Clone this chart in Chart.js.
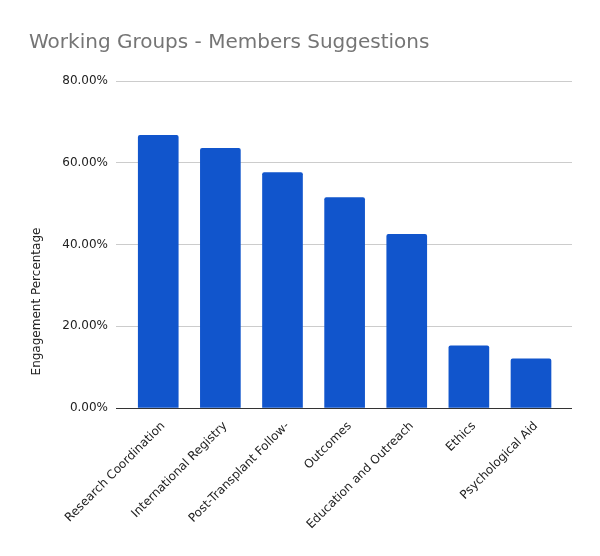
<!DOCTYPE html>
<html>
<head>
<meta charset="utf-8">
<title>Working Groups - Members Suggestions</title>
<script src="https://cdn.jsdelivr.net/npm/chart.js@4"></script>
<style>
  html, body { margin: 0; padding: 0; background: #fff; }
  #wrap { width: 600px; height: 556px; }
</style>
</head>
<body>
<div id="wrap"><canvas id="chart" width="600" height="556"></canvas></div>
<script>
// data
const categories = [
  "Research Coordination",
  "International Registry",
  "Post-Transplant Follow-",
  "Outcomes",
  "Education and Outreach",
  "Ethics",
  "Psychological Aid"
];
const engagement = [66.7, 63.5, 57.6, 51.5, 42.5, 15.2, 12.0];
const yTicks = [0, 20, 40, 60, 80];

const chartTitle = "Working Groups - Members Suggestions";
const yTitle = "Engagement Percentage";

// y axis title sits lower than the plot middle in the original, so draw it ourselves
const yTitlePlugin = {
  id: "yTitle",
  afterDraw(chart) {
    const ctx = chart.ctx;
    const x = chart.scales.x;
    const y = chart.scales.y;
    ctx.save();
    ctx.translate(37, (y.top + x.bottom) / 2 - 17);
    ctx.rotate(-Math.PI / 2);
    ctx.font = "12px 'DejaVu Sans'";
    ctx.fillStyle = "#222";
    ctx.textAlign = "center";
    ctx.textBaseline = "middle";
    ctx.fillText(yTitle, 0, 0);
    ctx.restore();
  }
};

new Chart(document.getElementById("chart"), {
  type: "bar",
  data: {
    datasets: [{
      label: yTitle,
      data: engagement.map((v, i) => ({ x: i, y: v })),
      backgroundColor: "#1155cc",
      borderRadius: 2,
      borderSkipped: "bottom",
      barThickness: 40
    }]
  },
  options: {
    responsive: false,
    animation: false,
    layout: { padding: { left: 29, right: 28, top: 0, bottom: 0 } },
    plugins: {
      legend: { display: false },
      tooltip: { enabled: false },
      title: {
        display: true,
        text: chartTitle,
        align: "start",
        color: "#757575",
        font: { family: "DejaVu Sans", size: 20, weight: "normal" },
        padding: { top: 31, bottom: 26 }
      }
    },
    scales: {
      x: {
        type: "linear",
        min: -0.68,
        max: 6.66,
        offset: false,
        grid: { display: false },
        border: { display: false },
        afterBuildTicks: s => { s.ticks = categories.map((c, i) => ({ value: i })); },
        afterFit: s => { s.height = 148; },
        ticks: {
          autoSkip: false,
          minRotation: 45,
          maxRotation: 45,
          padding: 3,
          labelOffset: 5,
          color: "#222",
          font: { family: "DejaVu Sans", size: 12 },
          callback: v => categories[v]
        }
      },
      y: {
        min: 0,
        max: 80,
        grid: {
          drawTicks: false,
          color: c => (c.tick && c.tick.value === 0 ? "#333" : "#cccccc")
        },
        border: { display: false },
        afterBuildTicks: s => { s.ticks = yTicks.map(v => ({ value: v })); },
        afterFit: s => { s.width = 87; },
        ticks: {
          padding: 8,
          color: "#222",
          font: { family: "DejaVu Sans", size: 12 },
          callback: v => v.toFixed(2) + "%"
        }
      }
    }
  },
  plugins: [yTitlePlugin]
});
</script>
</body>
</html>
